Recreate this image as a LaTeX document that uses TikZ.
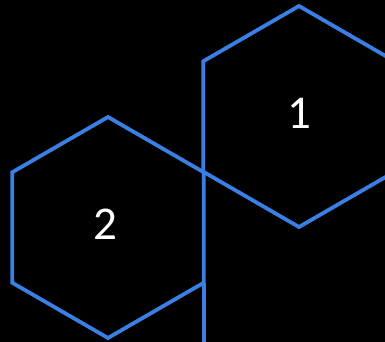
\documentclass[tikz,border=0pt]{standalone}
\usepackage{fontspec}
\setmainfont{Carlito}
\definecolor{hexblue}{RGB}{58,128,228}
\begin{document}
\begin{tikzpicture}[x=1pt,y=1pt,
  hexline/.style={draw=hexblue,line width=3.8pt,line join=miter},
  hexlabel/.style={text=white,font=\fontsize{47}{47}\selectfont,inner sep=0pt}]
\useasboundingbox (0,0) rectangle (385,342);
\fill[black] (0,0) rectangle (385,342);
\clip (0,0) rectangle (385,342);
% hexagon 1
\draw[hexline,shift={(299,225.5)}] (90:110.5) -- (150:110.5) -- (210:110.5) -- (270:110.5) -- (330:110.5) -- (30:110.5) -- cycle;
% hexagon 2
\draw[hexline,shift={(108,114.5)}] (90:110.5) -- (150:110.5) -- (210:110.5) -- (270:110.5) -- (330:110.5) -- (30:110.5) -- cycle;
% extension line below hexagon 2
\coordinate (h2lr) at ([shift={(108,114.5)}]330:110.5);
\coordinate (bottomend) at ([shift={(108,114.5)}]-90:130);
\draw[hexline] (h2lr) -- (h2lr |- bottomend);
\node[hexlabel] (one) at (299,229) {1};
\node[hexlabel] (two) at (105,118) {2};
\end{tikzpicture}
\end{document}
